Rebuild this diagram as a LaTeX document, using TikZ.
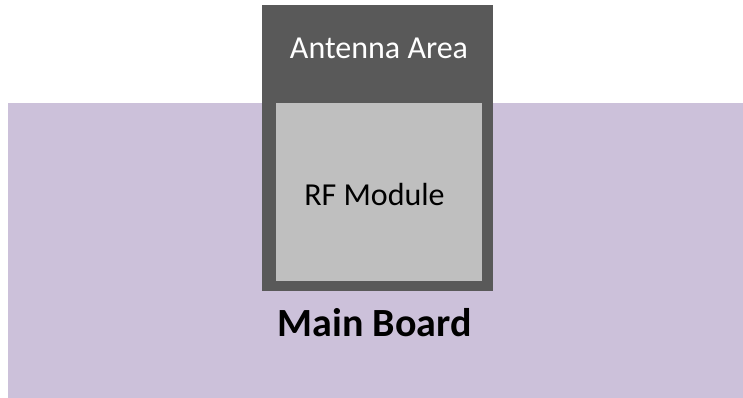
\documentclass[tikz,border=0pt]{standalone}
\usepackage{fontspec}
\setmainfont{Carlito}
\usepackage{tikz}
\usetikzlibrary{positioning}
\definecolor{boardfill}{HTML}{CCC1DA}
\definecolor{antfill}{HTML}{595959}
\definecolor{modfill}{HTML}{BFBFBF}
\tikzset{
  area/.style={inner sep=0pt,outer sep=0pt,draw=none},
  txt/.style={anchor=base,inner sep=0pt,font=\fontsize{32}{38}\selectfont}
}

\begin{document}
\begin{tikzpicture}[x=1pt,y=-1pt]
        \useasboundingbox (0,0) rectangle (743,398);
        \path
        % boxes
        (375.5,250.5) node[area,fill=boardfill,minimum width=735pt,minimum height=295pt](board) {}
        (377.5,148) node[area,fill=antfill,minimum width=231pt,minimum height=286pt](antenna) {}
        (379,192) node[area,fill=modfill,minimum width=206pt,minimum height=178pt](module) {}

        % texts
        (379,59) node[txt,text=white](antlabel) {Antenna Area}
        (374.5,205) node[txt](modlabel) {RF Module}
        (374.5,336) node[txt,font=\fontsize{40}{48}\selectfont\bfseries](boardlabel) {Main Board}
        ;
      \end{tikzpicture}
\end{document}
